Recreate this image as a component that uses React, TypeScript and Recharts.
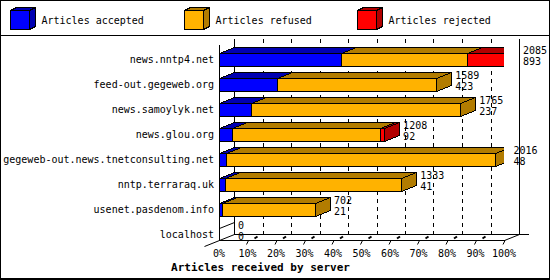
import { BarChart, Bar, XAxis, YAxis, CartesianGrid, Legend, LabelList } from 'recharts'

const SERVERS = [
  'news.nntp4.net',
  'feed-out.gegeweb.org',
  'news.samoylyk.net',
  'news.glou.org',
  'gegeweb-out.news.tnetconsulting.net',
  'nntp.terraraq.uk',
  'usenet.pasdenom.info',
  'localhost',
]
const TOTAL = [2085, 1589, 1765, 1208, 2016, 1333, 702, 0]
const ACCEPTED = [893, 423, 237, 92, 48, 41, 21, 0]
const REFUSED = [920, 1166, 1528, 1086, 1968, 1292, 681, 0]
const REJECTED = [272, 0, 0, 30, 0, 0, 0, 0]
const PCT_TICKS = [0, 10, 20, 30, 40, 50, 60, 70, 80, 90, 100]

const SERIES_NAMES = ['Articles accepted', 'Articles refused', 'Articles rejected']
const FRONT = ['#0000ff', '#ffb200', '#ff0000']
const SIDE = ['#0000b2', '#b27c00', '#b20000']
const TITLE = 'Articles received by server'

const data = SERVERS.map((name, i) => ({
  name,
  accepted: ACCEPTED[i],
  refused: REFUSED[i],
  rejected: REJECTED[i],
}))
const MAX_TOTAL = Math.max(...TOTAL)
const X_TICKS = PCT_TICKS.map((p) => (p * MAX_TOTAL) / 100)

const FONT = '"DejaVu Sans Mono", monospace'
// 3D depth of the boxes (pixels right / up)
const DX = 15
const DY = 6

const CHART_MARGIN = { top: 11, right: 46, bottom: 3, left: 0 }
const Y_TICK = { fontSize: 10, fill: '#000', fontFamily: FONT }
const snap = (v: number) => Math.round(v) + 0.5

// stacked segment drawn as a box: top face, right face, front face
const makeBox = (series: number) => (p: any) => {
  const { x, y, width, height, index } = p
  if (!(width > 0)) {
    if (series === 0 && TOTAL[index] === 0) {
      const sx = snap(x)
      const sy = snap(y)
      return <line x1={sx} y1={sy} x2={sx + DX} y2={sy - DY} stroke="#000" />
    }
    return <g />
  }
  const l = snap(x)
  const r = snap(x + width)
  const t = snap(y)
  const b = snap(y + height)
  return (
    <g stroke="#000" strokeWidth={1} shapeRendering="crispEdges">
      <polygon points={`${l},${t} ${l + DX},${t - DY} ${r + DX},${t - DY} ${r},${t}`} fill={SIDE[series]} />
      <polygon points={`${r},${t} ${r + DX},${t - DY} ${r + DX},${b - DY} ${r},${b}`} fill={SIDE[series]} />
      <rect x={l} y={t} width={r - l} height={b - t} fill={FRONT[series]} />
    </g>
  )
}
const shapeAccepted = makeBox(0)
const shapeRefused = makeBox(1)
const shapeRejected = makeBox(2)

// grid: dashed lines on the back wall, plus walls and floor of the box
const renderGridLine = (p: any) => {
  const { x1, index, x, y, width, height } = p
  const px = snap(x)
  const pr = snap(x + width)
  const frontTop = snap(y - 3)
  const backTop = frontTop - DY
  const floorFront = snap(y + height - 7)
  const floorBack = floorFront - DY
  const lx = snap(x1) + DX
  const isEdge = Math.abs(x1 - x) < 1 || Math.abs(x1 - (x + width)) < 1
  return (
    <g key={`g-${index}`} stroke="#000" strokeWidth={1} fill="none">
      {!isEdge && (
        <line x1={lx} y1={backTop} x2={lx} y2={floorBack} strokeDasharray="4 4" shapeRendering="crispEdges" />
      )}
      {index === 0 && (
        <g>
          <line x1={px} y1={frontTop} x2={px} y2={floorFront} shapeRendering="crispEdges" />
          <line x1={px + DX} y1={backTop} x2={px + DX} y2={floorBack} shapeRendering="crispEdges" />
          <line x1={pr + DX} y1={backTop} x2={pr + DX} y2={floorBack} shapeRendering="crispEdges" />
          <line x1={px} y1={floorFront} x2={pr} y2={floorFront} shapeRendering="crispEdges" />
          <line x1={px + DX} y1={floorBack} x2={pr + DX + 9} y2={floorBack} shapeRendering="crispEdges" />
          <line x1={pr} y1={floorFront} x2={pr + DX} y2={floorBack} />
          <line x1={px - DX} y1={floorFront + DY} x2={px + DX} y2={floorBack} />
        </g>
      )}
    </g>
  )
}

const PctTick = (p: any) => {
  const { x, y, payload } = p
  const pct = Math.round((payload.value / MAX_TOTAL) * 100)
  const yF = snap(y - 7)
  return (
    <g>
      {pct > 0 && <line x1={x - 1} y1={yF + 4} x2={x + 1} y2={yF} stroke="#000" />}
      {pct > 0 && pct < 100 && (
        <line x1={x + 7} y1={yF - 2} x2={x + 10} y2={yF - 4} stroke="#000" strokeWidth={2} />
      )}
      <text x={x} y={y + 6} textAnchor="middle" dominantBaseline="central" fontFamily={FONT} fontSize={10} fill="#000">
        {pct}%
      </text>
    </g>
  )
}

const renderTitle = (p: any) => {
  const vb = p.viewBox
  return (
    <text
      x={vb.x + vb.width / 2 - 101}
      y={vb.y + 20}
      textAnchor="middle"
      dominantBaseline="central"
      fontFamily={FONT}
      fontSize={11}
      fontWeight="bold"
      fill="#000"
    >
      {TITLE}
    </text>
  )
}

const renderTotals = (p: any) => {
  const vb = p.viewBox ?? p
  const i = p.index
  const tx = vb.x + vb.width + DX + 4
  const cy = vb.y + vb.height / 2
  return (
    <g key={`lbl-${i}`} fontFamily={FONT} fontSize={10} fill="#000">
      <text x={tx} y={cy - 9.5} dominantBaseline="central">{TOTAL[i]}</text>
      <text x={tx} y={cy + 2} dominantBaseline="central">{ACCEPTED[i]}</text>
    </g>
  )
}

const renderLegend = (p: any) => {
  const items = (p.payload ?? []).map((e: any) => SERIES_NAMES.indexOf(e.value)).filter((i: number) => i >= 0)
  return (
    <svg width={550} height={36} style={{ display: 'block' }}>
      {items.map((s: number, k: number) => {
        const x0 = 10.5 + Math.round(k * 173.5)
        const y0 = 10.5
        return (
          <g key={s}>
            <g stroke="#000" strokeWidth={1} shapeRendering="crispEdges">
              <polygon points={`${x0},${y0} ${x0 + 6},${y0 - 3} ${x0 + 25},${y0 - 3} ${x0 + 19},${y0}`} fill={SIDE[s]} />
              <polygon points={`${x0 + 19},${y0} ${x0 + 25},${y0 - 3} ${x0 + 25},${y0 + 16} ${x0 + 19},${y0 + 19}`} fill={SIDE[s]} />
              <rect x={x0} y={y0} width={19} height={19} fill={FRONT[s]} />
            </g>
            <text x={x0 + 31} y={20} dominantBaseline="central" fontFamily={FONT} fontSize={10} fill="#000">
              {SERIES_NAMES[s]}
            </text>
          </g>
        )
      })}
      <line x1={0} y1={35.5} x2={550} y2={35.5} stroke="#000" />
    </svg>
  )
}

export default function App() {
  return (
    <div style={{ position: 'relative', width: 550, height: 280, background: '#fff' }}>
      <style>{'body{margin:0}'}</style>
      <BarChart width={550} height={280} data={data} layout="vertical" margin={CHART_MARGIN} barCategoryGap={12}>
        <Legend
          verticalAlign="top"
          align="left"
          content={renderLegend}
          wrapperStyle={{ top: 0, left: 0, width: 550, height: 36 }}
        />
        <CartesianGrid horizontal={false} vertical={renderGridLine} />
        <XAxis
          type="number"
          domain={[0, MAX_TOTAL]}
          allowDataOverflow
          ticks={X_TICKS}
          interval={0}
          height={30}
          tickSize={0}
          tickMargin={0}
          axisLine={false}
          tickLine={false}
          tick={PctTick}
          label={{ value: TITLE, content: renderTitle }}
        />
        <YAxis
          type="category"
          dataKey="name"
          width={219}
          tickSize={0}
          tickMargin={5}
          axisLine={false}
          tickLine={false}
          tick={Y_TICK}
          interval={0}
        />
        <Bar dataKey="accepted" name={SERIES_NAMES[0]} stackId="a" fill={FRONT[0]} barSize={13} shape={shapeAccepted} isAnimationActive={false} />
        <Bar dataKey="refused" name={SERIES_NAMES[1]} stackId="a" fill={FRONT[1]} barSize={13} shape={shapeRefused} isAnimationActive={false} />
        <Bar dataKey="rejected" name={SERIES_NAMES[2]} stackId="a" fill={FRONT[2]} barSize={13} shape={shapeRejected} isAnimationActive={false}>
          <LabelList dataKey="rejected" content={renderTotals} />
        </Bar>
      </BarChart>
      <div
        style={{
          position: 'absolute',
          inset: 0,
          borderStyle: 'solid',
          borderColor: '#000',
          borderWidth: '1px 1px 2px 1px',
          pointerEvents: 'none',
        }}
      />
    </div>
  )
}
